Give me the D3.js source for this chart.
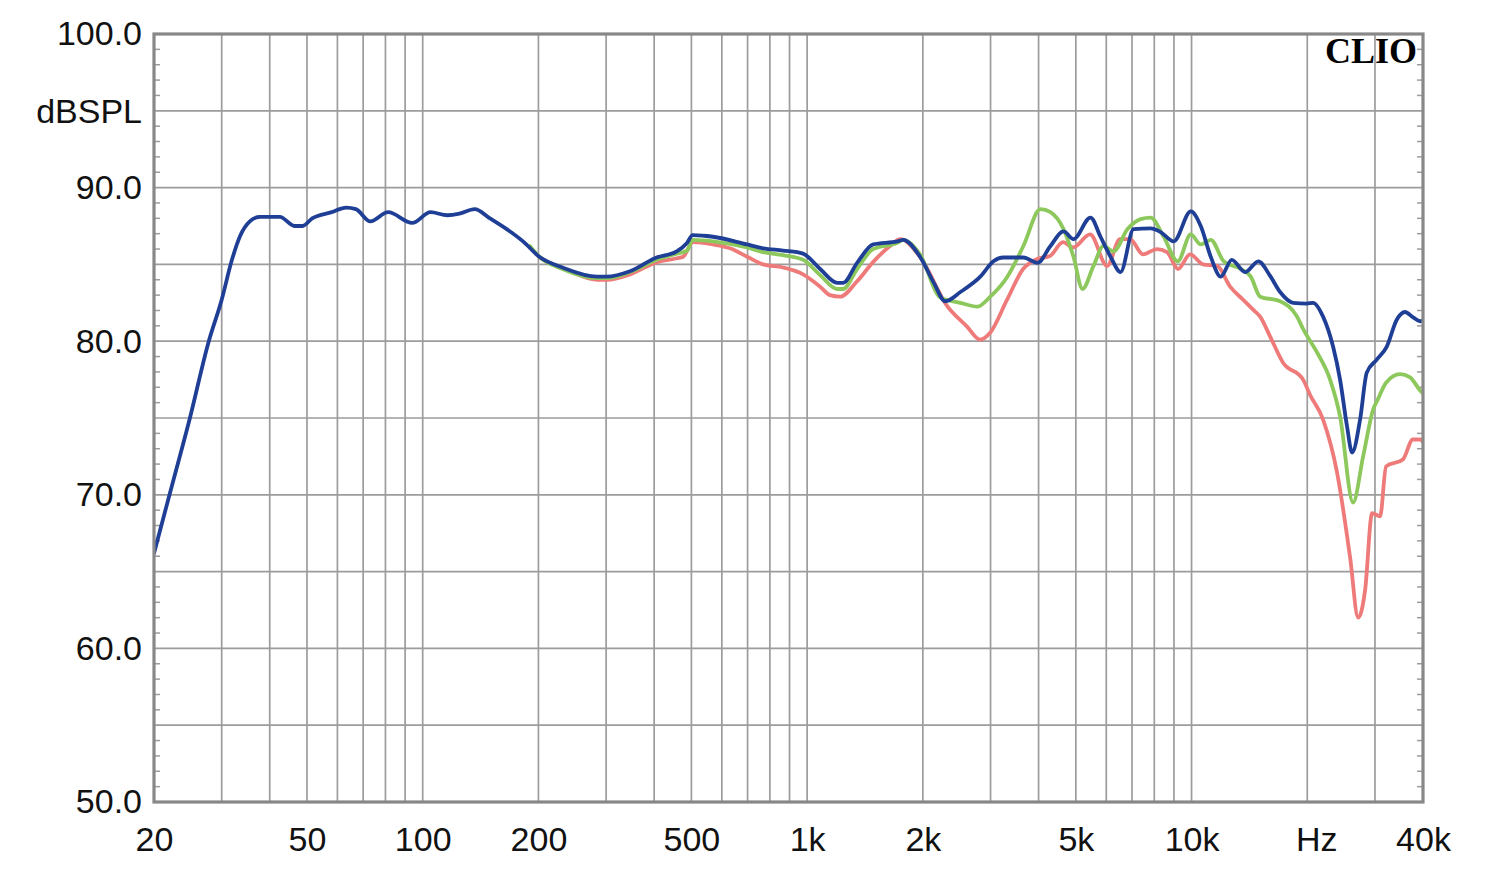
<!DOCTYPE html>
<html>
<head>
<meta charset="utf-8">
<script src="https://cdn.jsdelivr.net/npm/d3@7"></script>
<style>
  html, body { margin: 0; padding: 0; background: #ffffff; }
  svg { display: block; }
</style>
</head>
<body>
<svg id="chart" width="1500" height="870"></svg>
<script>
// ---- data ----
const yTickValues = [50, 60, 70, 80, 90, 100];
const yTickLabels = ["50.0", "60.0", "70.0", "80.0", "90.0", "100.0"];
const xTickValues = [20, 50, 100, 200, 500, 1000, 2000, 5000, 10000, 20000, 40000];
const xTickLabels = ["20", "50", "100", "200", "500", "1k", "2k", "5k", "10k", "Hz", "40k"];
const xGridValues = [20, 30, 40, 50, 60, 70, 80, 90, 100, 200, 300, 400, 500, 600, 700, 800, 900,
  1000, 2000, 3000, 4000, 5000, 6000, 7000, 8000, 9000, 10000, 20000, 30000, 40000];
const unitLabel = "dBSPL";
const brandLabel = "CLIO";

// blue series (frequency Hz, dB SPL)
const blueFreq = [20, 22, 24.8, 27.7, 30, 31.9, 33.5, 35.5, 37.7, 42.5, 46.4, 48.7, 51.6, 58, 63.2, 67, 73.1, 81.3,
  93.9, 104.8, 115.9, 124.6, 136.5, 149.6, 165.4, 182.4, 201, 231, 284, 301, 346, 406, 458, 487, 504, 569,
  697, 768, 866, 976, 1081, 1197, 1241, 1349, 1485, 1716, 1778, 1966, 2136, 2287, 2504, 2822, 3052, 3240,
  3652, 3974, 4296, 4644, 4930, 5460, 5796, 6156, 6536, 7068, 7828, 8312, 8986, 9952, 10566, 11218, 11912,
  12722, 13778, 14922, 16010, 16996, 18376, 19940, 20708, 21984, 23340, 24340, 25380, 26160, 27440, 28560,
  30320, 32200, 34180, 35920, 37700, 39300, 40000];
const blueDb = [66.2, 70.1, 75.0, 79.9, 82.7, 85.3, 86.85, 87.8, 88.1, 88.1, 87.5, 87.5, 88.0, 88.4, 88.7, 88.6, 87.8, 88.4,
  87.7, 88.4, 88.2, 88.3, 88.6, 88.0, 87.3, 86.5, 85.5, 84.8, 84.2, 84.2, 84.55, 85.45, 85.85, 86.4, 86.9, 86.8,
  86.3, 86.05, 85.9, 85.7, 84.7, 83.8, 83.8, 85.1, 86.3, 86.5, 86.6, 85.5, 83.8, 82.6, 83.2, 84.2, 85.2, 85.45,
  85.45, 85.1, 86.2, 87.15, 86.65, 88.05, 86.8, 85.5, 84.5, 87.3, 87.35, 87.1, 86.5, 88.45, 87.5, 85.5, 84.2,
  85.3, 84.5, 85.2, 84.25, 83.2, 82.5, 82.45, 82.5, 81.6, 79.65, 77.5, 74.45, 72.75, 74.9, 77.95,
  78.8, 79.65, 81.4, 81.9, 81.55, 81.3, 81.35];

// green series
const greenFreq = [190, 201, 231, 284, 301, 346, 406, 458, 487, 504, 569, 697, 768, 866, 976, 1081, 1197, 1241,
  1349, 1485, 1716, 1778, 1966, 2220, 2504, 2772, 2996, 3318, 3652, 4046, 4296, 4644, 4930, 5204, 5558, 5902,
  6268, 6816, 7372, 7828, 8462, 9204, 9952, 10566, 11218, 12128, 13430, 14260, 15078, 16996, 18814, 19504,
  21170, 22928, 24340, 26312, 27946, 29672, 30500, 32064, 34868, 37020, 39300, 40000];
const greenDb = [86.2, 85.5, 84.7, 84.1, 84.1, 84.5, 85.3, 85.7, 85.9, 86.6, 86.5, 86.1, 85.8, 85.6, 85.3, 84.3, 83.4, 83.4,
  84.7, 86.0, 86.4, 86.6, 85.65, 82.85, 82.5, 82.25, 82.9, 84.2, 86.2, 88.6, 88.4, 87.3, 85.5, 83.4, 84.9, 86.2,
  85.85, 87.3, 87.95, 88.05, 86.8, 85.2, 86.95, 86.3, 86.6, 85.2, 84.7, 84.2, 82.9, 82.6, 81.6, 80.8,
  79.3, 77.5, 75.1, 69.5, 72.5, 75.55, 76.2, 77.3, 77.85, 77.65, 76.8, 76.6];

// red series
const redFreq = [190, 202, 232, 284, 302, 346, 407, 459, 476, 505, 569, 630, 698, 768, 865, 976, 1081, 1147, 1218,
  1349, 1484, 1643, 1745, 1966, 2312, 2606, 2818, 2992, 3312, 3646, 3964, 4284, 4630, 4916, 5446, 6030, 6516,
  6920, 7478, 8132, 8634, 9226, 9912, 10716, 11652, 12598, 13616, 14456, 15078, 16012, 17300, 19504, 20340,
  21984, 23908, 25840, 27126, 28280, 29490, 30936, 32064, 35466, 37652, 39300, 40000];
const redDb = [86.1, 85.45, 84.75, 84.0, 84.0, 84.35, 85.15, 85.4, 85.5, 86.45, 86.3, 86.05, 85.5, 85.0, 84.8, 84.35, 83.55, 83.0, 82.9,
  83.9, 85.15, 86.2, 86.65, 85.5, 82.3, 80.95, 80.1, 80.55, 82.7, 84.7, 85.35, 85.55, 86.45, 86.1, 86.95, 84.9, 86.65,
  86.65, 85.65, 86.0, 85.8, 84.7, 85.65, 85.0, 84.9, 83.55, 82.7, 82.05, 81.6, 80.3, 78.6, 77.5, 76.5,
  74.9, 71.45, 65.95, 62.0, 63.8, 68.8, 68.6, 71.85, 72.3, 73.6, 73.6, 73.45];

const seriesList = [
  { name: "red", freq: redFreq, db: redDb, color: "#ef7a7a" },
  { name: "green", freq: greenFreq, db: greenDb, color: "#8cc85c" },
  { name: "blue", freq: blueFreq, db: blueDb, color: "#1f3f96" }
];

(function draw() {
  const svg = d3.select("#chart");
  const pL = 154, pR = 1423, pT = 34, pB = 802;

  const x = d3.scaleLog().domain([20, 40000]).range([pL, pR]);
  const y = d3.scaleLinear().domain([50, 100]).range([pB, pT]);

  const gridColor = "#9c9c9c";
  const frameColor = "#888888";
  const fontFam = "Liberation Sans, Arial, sans-serif";

  // horizontal grid every 5 dB
  const hGrid = d3.range(55, 100, 5);
  svg.append("g").selectAll("line").data(hGrid).join("line")
    .attr("x1", pL).attr("x2", pR)
    .attr("y1", d => y(d)).attr("y2", d => y(d))
    .attr("stroke", gridColor).attr("stroke-width", 1.7);

  // vertical grid
  svg.append("g").selectAll("line").data(xGridValues.filter(v => v > 20 && v < 40000)).join("line")
    .attr("x1", d => x(d)).attr("x2", d => x(d))
    .attr("y1", pT).attr("y2", pB)
    .attr("stroke", gridColor).attr("stroke-width", 1.7);

  // small 1 dB ticks on left and right borders
  const minor = d3.range(51, 100, 1).filter(v => v % 5 !== 0);
  const tickG = svg.append("g");
  tickG.selectAll("line.l").data(minor).join("line").attr("class", "l")
    .attr("x1", pL).attr("x2", pL + 6)
    .attr("y1", d => y(d)).attr("y2", d => y(d))
    .attr("stroke", gridColor).attr("stroke-width", 1.5);
  tickG.selectAll("line.r").data(minor).join("line").attr("class", "r")
    .attr("x1", pR - 6).attr("x2", pR)
    .attr("y1", d => y(d)).attr("y2", d => y(d))
    .attr("stroke", gridColor).attr("stroke-width", 1.5);

  // curves
  const line = d3.line()
    .x(d => x(d[0]))
    .y(d => y(d[1]))
    .curve(d3.curveMonotoneX);

  svg.append("clipPath").attr("id", "plotclip")
    .append("rect").attr("x", pL).attr("y", pT).attr("width", pR - pL).attr("height", pB - pT);

  svg.append("g").attr("clip-path", "url(#plotclip)")
    .selectAll("path").data(seriesList).join("path")
    .attr("d", s => line(s.freq.map((f, i) => [f, s.db[i]])))
    .attr("fill", "none")
    .attr("stroke", s => s.color)
    .attr("stroke-width", 3.8)
    .attr("stroke-linejoin", "round")
    .attr("stroke-linecap", "round");

  // frame
  svg.append("rect")
    .attr("x", pL).attr("y", pT)
    .attr("width", pR - pL).attr("height", pB - pT)
    .attr("fill", "none").attr("stroke", frameColor).attr("stroke-width", 3.2);

  // y axis labels
  const yAxis = d3.axisLeft(y).tickValues(yTickValues)
    .tickFormat((d, i) => yTickLabels[i]).tickSize(0).tickPadding(12);
  const yg = svg.append("g").attr("transform", `translate(${pL},0)`).call(yAxis);
  yg.select(".domain").remove();
  yg.selectAll("text")
    .attr("font-family", fontFam)
    .attr("font-size", 34).attr("fill", "#111");

  svg.append("text")
    .attr("x", pL - 12).attr("y", y(95)).attr("dy", "0.35em")
    .attr("text-anchor", "end")
    .attr("font-family", fontFam)
    .attr("font-size", 34).attr("fill", "#111")
    .text(unitLabel);

  // x axis labels
  const xAxis = d3.axisBottom(x).tickValues(xTickValues)
    .tickFormat((d, i) => xTickLabels[i]).tickSize(0).tickPadding(25);
  const xg = svg.append("g").attr("transform", `translate(0,${pB})`).call(xAxis);
  xg.select(".domain").remove();
  xg.selectAll("text")
    .attr("font-family", fontFam)
    .attr("font-size", 34).attr("fill", "#111")
    .attr("dx", (d, i) => xTickLabels[i] === "Hz" ? 9 : 0);

  // brand
  svg.append("text")
    .attr("x", 1417).attr("y", 63)
    .attr("text-anchor", "end")
    .attr("font-family", "Liberation Serif, Times New Roman, serif")
    .attr("font-weight", "bold")
    .attr("font-size", 36).attr("fill", "#000")
    .text(brandLabel);
})();
</script>
</body>
</html>
